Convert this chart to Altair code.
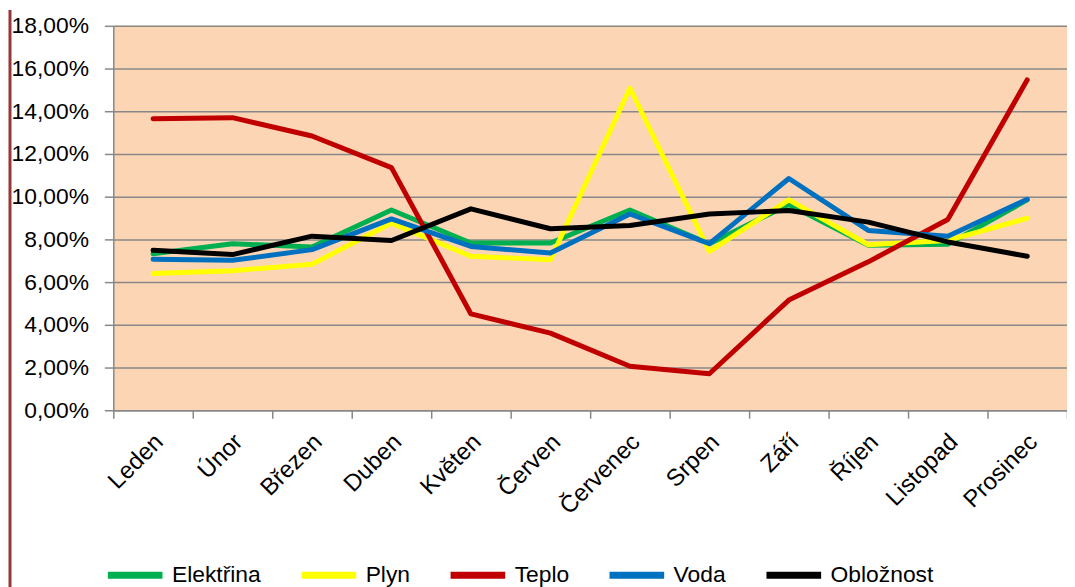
import altair as alt
import pandas as pd

months = ["Leden", "Únor", "Březen", "Duben", "Květen", "Červen",
          "Červenec", "Srpen", "Září", "Říjen", "Listopad", "Prosinec"]

series_names = ["Elektřina", "Plyn", "Teplo", "Voda", "Obložnost"]
series_colors = ["#00B050", "#FFFF00", "#C00000", "#0070C0", "#000000"]

# values in percent of yearly total
elektrina = [7.33, 7.80, 7.64, 9.38, 7.83, 7.83, 9.38, 7.80, 9.63, 7.72, 7.77, 9.85]
plyn = [6.40, 6.53, 6.84, 8.76, 7.21, 7.05, 15.09, 7.44, 9.85, 7.75, 7.95, 8.99]
teplo = [13.65, 13.70, 12.84, 11.36, 4.51, 3.61, 2.06, 1.71, 5.16, 6.95, 8.93, 15.47]
voda = [7.07, 7.02, 7.52, 8.96, 7.67, 7.36, 9.19, 7.80, 10.85, 8.42, 8.15, 9.88]
oblo = [7.49, 7.29, 8.15, 7.95, 9.43, 8.50, 8.65, 9.19, 9.35, 8.81, 7.88, 7.21]

y_ticks = [0, 0.02, 0.04, 0.06, 0.08, 0.10, 0.12, 0.14, 0.16, 0.18]

rows = []
for i, (name, vals) in enumerate(zip(series_names, [elektrina, plyn, teplo, voda, oblo])):
    for m, v in zip(months, vals):
        rows.append({"mesic": m, "rada": name, "poradi": i, "podil": v / 100.0})
df = pd.DataFrame(rows)

FONT = "Liberation Sans"
GRAY = "#888888"

lines = alt.Chart(df).mark_line(
    strokeWidth=5, strokeCap="round", strokeJoin="round"
).encode(
    x=alt.X(
        "mesic:N",
        sort=months,
        bandPosition=0.5,
        scale=alt.Scale(type="band", paddingInner=0, paddingOuter=0),
        axis=alt.Axis(
            title=None,
            tickBand="extent",
            labelAngle=-45,
            labelAlign="right",
            labelBaseline="middle",
            labelPadding=20,
            labelOffset=6,
            tickSize=8,
            grid=False,
            labelFontSize=24,
        ),
    ),
    y=alt.Y(
        "podil:Q",
        scale=alt.Scale(domain=[0, 0.18], nice=False),
        axis=alt.Axis(
            title=None,
            values=y_ticks,
            labelExpr="replace(format(datum.value, '.2%'), '.', ',')",
            tickSize=9,
            labelPadding=16,
            grid=True,
            labelFontSize=23,
        ),
    ),
    color=alt.Color(
        "rada:N",
        sort=series_names,
        scale=alt.Scale(domain=series_names, range=series_colors),
        legend=alt.Legend(
            title=None,
            orient="none",
            direction="horizontal",
            columns=5,
            legendX=-9,
            legendY=522,
            symbolType="stroke",
            symbolSize=3025,
            symbolStrokeWidth=7,
            labelFontSize=23,
            labelFont=FONT,
            labelColor="#000000",
            labelOffset=6,
            columnPadding=26,
            labelLimit=300,
        ),
    ),
    order=alt.Order("poradi:Q"),
)

frame = alt.Chart(alt.Data(values=[{"a": 1}])).mark_rule(
    color="#953735", strokeWidth=3
).encode(
    x=alt.value(-104),
    y=alt.value(-16),
    y2=alt.value(570),
)

chart = alt.layer(frame, lines).properties(
    width=960,
    height=387,
    background="#FFFFFF",
    padding={"left": 106, "top": 16, "right": 0, "bottom": 180},
    autosize=alt.AutoSizeParams(type="none"),
).configure_view(
    fill="#FCD5B5", strokeWidth=0
).configure_axis(
    labelFont=FONT,
    labelColor="#000000",
    domainColor=GRAY,
    domainWidth=1.5,
    tickColor=GRAY,
    tickWidth=1.5,
    gridColor=GRAY,
    gridWidth=1.5,
    gridOpacity=1,
)

chart.save("out.html", embed_options={"renderer": "svg", "actions": False})
